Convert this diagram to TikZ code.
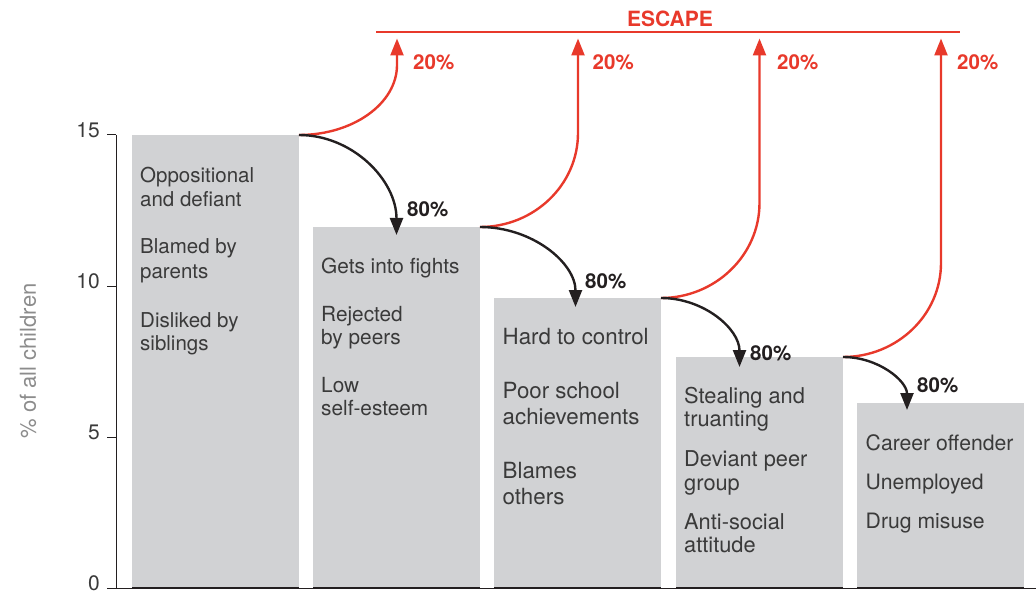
\documentclass[tikz,border=0pt]{standalone}
\usepackage{fontspec}
\setmainfont{TeX Gyre Heros}
\usetikzlibrary{arrows.meta}
\definecolor{bargray}{HTML}{D1D2D4}
\definecolor{escred}{HTML}{E8392B}
\definecolor{arrblack}{HTML}{231F20}
\definecolor{txtgray}{HTML}{3A3A3A}
\definecolor{axgray}{HTML}{8C8C8C}
\begin{document}
\begin{tikzpicture}[x=1pt,y=-1pt,
  bar/.style={fill=bargray, inner sep=0pt, outer sep=0pt, anchor=south west, minimum width=167pt},
  lbl/.style={anchor=base west, inner sep=0pt, text=txtgray},
  pct/.style={anchor=base west, inner sep=0pt, font=\fontsize{20.5}{24}\bfseries},
  blk/.style={draw=arrblack, line width=2.4pt, -{Triangle[length=17pt,width=13pt]}},
  redarr/.style={draw=escred, line width=2.4pt, -{Triangle[length=17pt,width=13pt]}},
  ticklbl/.style={anchor=mid east, inner sep=0pt, text=txtgray, font=\fontsize{21}{24}\selectfont},
  axisline/.style={draw=arrblack, line width=1pt}
]
\useasboundingbox (0,0) rectangle (1036,596);

% bars
\node[bar, minimum height=453pt] (bar1) at (132,588) {};
\node[bar, minimum height=361pt] (bar2) at (313,588) {};
\node[bar, minimum height=290pt] (bar3) at (494,588) {};
\node[bar, minimum height=231pt] (bar4) at (676,588) {};
\node[bar, minimum height=185pt] (bar5) at (857,588) {};

% axis
\coordinate (o) at (116,588);
\coordinate (ytop) at (116,135);
\coordinate (xend) at (1036,588);
\draw[axisline] (ytop) -- (o) -- (xend);
\foreach \b in {1,...,5}{
  \draw[draw=arrblack, line width=2.2pt] (bar\b.south west) -- (bar\b.south east);
}
\foreach \y/\v in {135/15,286/10,437/5,588/0}{
  \coordinate (tk\v) at (107,\y);
  \draw[axisline] (tk\v) -- (116,\y);
  \node[ticklbl] (tl\v) at (100,\y) {\v};
}
\node[rotate=90, text=axgray, inner sep=0pt, font=\fontsize{22}{24}\selectfont] (ylab) at (28,361) {\% of all children};

% bar texts
\foreach \y/\t in {183/Oppositional,207/and defiant,254/Blamed by,278/parents,327/Disliked by,350/siblings}{
  \node[lbl, font=\fontsize{20.5}{24}\selectfont] (ta\y) at (140,\y) {\t};
}
\foreach \y/\t in {273/Gets into fights,321/Rejected,344/by peers,392/Low,415/self-esteem}{
  \node[lbl, font=\fontsize{20.8}{24}\selectfont] (tb\y) at (321,\y) {\t};
}
\foreach \y/\t in {344/Hard to control,398/Poor school,424/achievements,478/Blames,504/others}{
  \node[lbl, font=\fontsize{22.3}{24}\selectfont] (tc\y) at (502.5,\y) {\t};
}
\foreach \y/\t in {403/Stealing and,426/truanting,466/Deviant peer,490/group,529/Anti-social,552/attitude}{
  \node[lbl, font=\fontsize{21.8}{24}\selectfont] (td\y) at (684,\y) {\t};
}
\foreach \y/\t in {450/Career offender,489/Unemployed,528/Drug misuse}{
  \node[lbl, font=\fontsize{21.2}{24}\selectfont] (te\y) at (865.5,\y) {\t};
}

% escape line
\coordinate (e1) at (376,32);
\coordinate (e2) at (960,32);
\draw[draw=escred, line width=2.6pt] (e1) -- (e2);
\node[anchor=base, inner sep=0pt, text=escred, font=\fontsize{21}{24}\bfseries] (esc) at (670,26.5) {ESCAPE};

% red escape arrows
\coordinate (r1) at (397,38.5);
\coordinate (r2) at (578,38.5);
\coordinate (r3) at (759.5,38.5);
\coordinate (r4) at (941,38.5);
\coordinate (ra1) at (397,65);
\coordinate (ra2) at (578,133);
\coordinate (ra3) at (759.5,203);
\coordinate (ra4) at (941,263);
\draw[redarr] (bar1.north east) .. controls +(54,0) and +(0,38.6) .. (ra1) -- (r1);
\draw[redarr] (bar2.north east) .. controls +(54,0) and +(0,52) .. (ra2) -- (r2);
\draw[redarr] (bar3.north east) .. controls +(54,0) and +(0,52.5) .. (ra3) -- (r3);
\draw[redarr] (bar4.north east) .. controls +(54,0) and +(0,52) .. (ra4) -- (r4);

% black progression arrows
\coordinate (k1) at (396.5,235);
\coordinate (k2) at (575.5,307);
\coordinate (k3) at (739.5,367);
\coordinate (k4) at (907,410);
\draw[blk] (bar1.north east) .. controls +(53.5,0) and +(0,-55) .. (k1);
\draw[blk] (bar2.north east) .. controls +(52.5,0) and +(0,-44) .. (k2);
\draw[blk] (bar3.north east) .. controls +(43,0) and +(0,-38) .. (k3);
\draw[blk] (bar4.north east) .. controls +(35.5,0) and +(0,-29) .. (k4);

% percentages
\node[pct, text=escred] (p20a) at (413,70) {20\%};
\node[pct, text=escred] (p20b) at (592.5,70) {20\%};
\node[pct, text=escred] (p20c) at (777,70) {20\%};
\node[pct, text=escred] (p20d) at (957,70) {20\%};
\node[pct, text=arrblack] (p80a) at (407,217) {80\%};
\node[pct, text=arrblack] (p80b) at (585,288) {80\%};
\node[pct, text=arrblack] (p80c) at (750,360) {80\%};
\node[pct, text=arrblack] (p80d) at (917,392) {80\%};
\end{tikzpicture}
\end{document}
